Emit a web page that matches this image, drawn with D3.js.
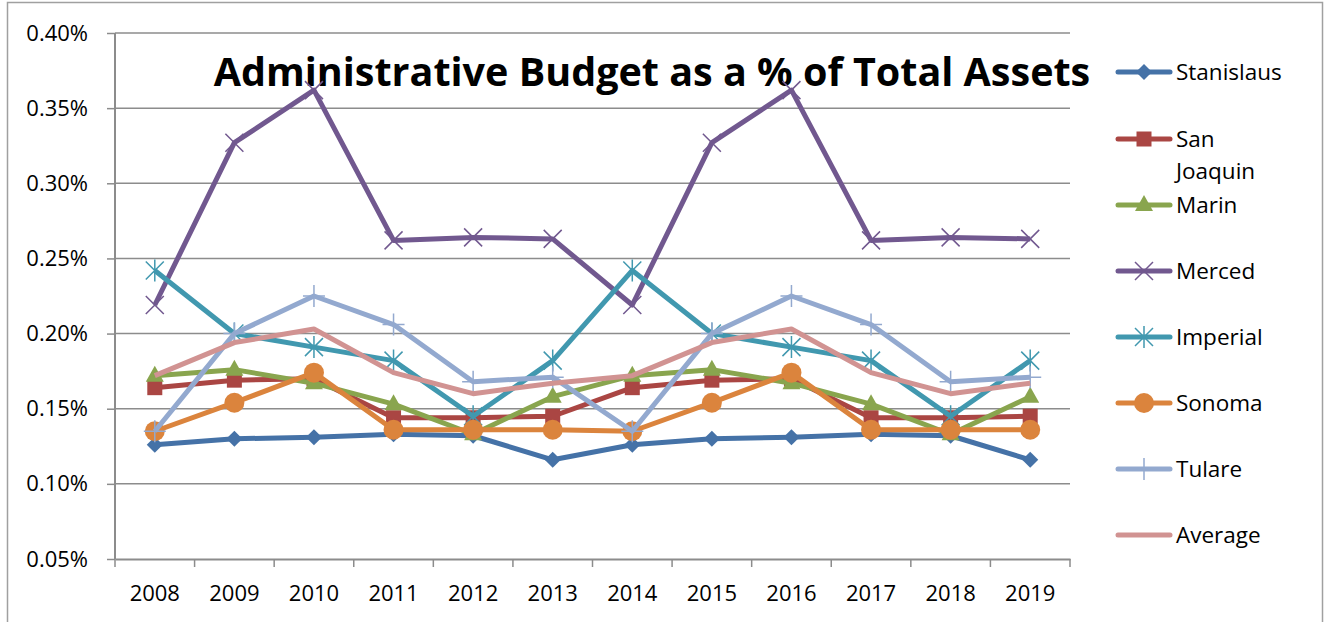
<!DOCTYPE html>
<html>
<head>
<meta charset="utf-8">
<title>Administrative Budget as a % of Total Assets</title>
<script src="https://cdnjs.cloudflare.com/ajax/libs/d3/7.8.5/d3.min.js"></script>
<style>
  body { margin: 0; background: #fff; }
  svg text { font-family: "Open Sans", sans-serif; }
</style>
</head>
<body>
<script>
// chart data
var years = ["2008","2009","2010","2011","2012","2013","2014","2015","2016","2017","2018","2019"];
var yTicks = [0.05, 0.10, 0.15, 0.20, 0.25, 0.30, 0.35, 0.40];

var stanislaus = [0.126,0.130,0.131,0.133,0.132,0.116,0.126,0.130,0.131,0.133,0.132,0.116];
var sanJoaquin = [0.164,0.169,0.170,0.144,0.144,0.145,0.164,0.169,0.170,0.144,0.144,0.145];
var marin      = [0.172,0.176,0.167,0.153,0.133,0.158,0.172,0.176,0.167,0.153,0.133,0.158];
var merced     = [0.219,0.327,0.362,0.262,0.264,0.263,0.219,0.327,0.362,0.262,0.264,0.263];
var imperial   = [0.242,0.200,0.191,0.182,0.145,0.182,0.242,0.200,0.191,0.182,0.145,0.182];
var sonoma     = [0.135,0.154,0.174,0.136,0.136,0.136,0.135,0.154,0.174,0.136,0.136,0.136];
var tulare     = [0.135,0.200,0.225,0.206,0.168,0.171,0.135,0.200,0.225,0.206,0.168,0.171];
var average    = [0.172,0.194,0.203,0.174,0.160,0.167,0.172,0.194,0.203,0.174,0.160,0.167];

var series = [
  { name: "Stanislaus",  values: stanislaus, color: "#4572A7", marker: "diamond" },
  { name: "San Joaquin", values: sanJoaquin, color: "#AA4643", marker: "square" },
  { name: "Marin",       values: marin,      color: "#89A54E", marker: "triangle" },
  { name: "Merced",      values: merced,     color: "#71588F", marker: "x" },
  { name: "Imperial",    values: imperial,   color: "#4198AF", marker: "star" },
  { name: "Sonoma",      values: sonoma,     color: "#DB843D", marker: "circle" },
  { name: "Tulare",      values: tulare,     color: "#93A9CF", marker: "plus" },
  { name: "Average",     values: average,    color: "#D19392", marker: "none" }
];

var chartwidth = 1331, chartheight = 622;
var plotLeft = 115, plotRight = 1070, plotTop = 33, plotBottom = 559;
var gridColor = "#8c8c8c";

var svg = d3.select("body").append("svg")
  .attr("width", chartwidth)
  .attr("height", chartheight);

// outer chart border
svg.append("rect")
  .attr("x", 7.5).attr("y", 2.5)
  .attr("width", 1315).attr("height", 640)
  .attr("fill", "none")
  .attr("stroke", "#a0a0a0")
  .attr("stroke-width", 1.5);

var x = d3.scaleBand().domain(years).range([plotLeft, plotRight]);
var y = d3.scaleLinear().domain([0.05, 0.40]).range([plotBottom, plotTop]);

// gridlines
svg.append("g")
  .selectAll("line")
  .data(yTicks.slice(1))
  .enter().append("line")
  .attr("x1", plotLeft).attr("x2", plotRight)
  .attr("y1", function(d) { return y(d); })
  .attr("y2", function(d) { return y(d); })
  .attr("stroke", gridColor)
  .attr("stroke-width", 1.5);

// y axis
var yAxis = svg.append("g")
  .attr("transform", "translate(" + plotLeft + ",0)")
  .call(d3.axisLeft(y).tickValues(yTicks).tickSize(8).tickPadding(19)
    .tickFormat(function(d) { return d.toFixed(2) + "%"; }));
yAxis.selectAll("text").attr("font-size", "22px").attr("fill", "#000")
  .style("font-family", "'Open Sans', sans-serif");

// x axis, ticks at category boundaries
var xAxis = svg.append("g")
  .attr("transform", "translate(0," + plotBottom + ")")
  .call(d3.axisBottom(x).tickSize(0).tickPadding(26));
xAxis.selectAll("text").attr("font-size", "22px").attr("fill", "#000")
  .style("font-family", "'Open Sans', sans-serif");
xAxis.append("g").selectAll("line")
  .data(years.concat(["end"]))
  .enter().append("line")
  .attr("x1", function(d, i) { return plotLeft + i * x.step(); })
  .attr("x2", function(d, i) { return plotLeft + i * x.step(); })
  .attr("y1", 0).attr("y2", 8)
  .attr("stroke", gridColor).attr("stroke-width", 1.5);

svg.selectAll(".domain").attr("stroke", gridColor).attr("stroke-width", 2);
svg.selectAll(".tick line").attr("stroke", gridColor).attr("stroke-width", 1.5);
yAxis.select(".domain").attr("d", "M0," + plotBottom + "V" + plotTop);

// title
svg.append("text")
  .attr("x", 652).attr("y", 86)
  .attr("text-anchor", "middle")
  .attr("font-size", "39.5px")
  .attr("font-weight", "bold")
  .attr("fill", "#000")
  .text("Administrative Budget as a % of Total Assets");

function drawMarker(g, type, color, cx, cy) {
  if (type === "diamond") {
    g.append("path").attr("d", d3.symbol().type(d3.symbolSquare).size(130))
      .attr("transform", "translate(" + cx + "," + cy + ") rotate(45)")
      .attr("fill", color);
  } else if (type === "square") {
    g.append("rect").attr("x", cx - 7.5).attr("y", cy - 7.5)
      .attr("width", 15).attr("height", 15).attr("fill", color);
  } else if (type === "triangle") {
    g.append("path").attr("d", "M" + cx + "," + (cy - 10) + "L" + (cx + 9) + "," + (cy + 6) + "L" + (cx - 9) + "," + (cy + 6) + "Z")
      .attr("fill", color);
  } else if (type === "circle") {
    g.append("circle").attr("cx", cx).attr("cy", cy).attr("r", 10).attr("fill", color);
  } else if (type === "x") {
    g.append("path").attr("d", "M" + (cx - 9) + "," + (cy - 9) + "L" + (cx + 9) + "," + (cy + 9) + "M" + (cx + 9) + "," + (cy - 9) + "L" + (cx - 9) + "," + (cy + 9))
      .attr("stroke", color).attr("stroke-width", 1.5).attr("fill", "none");
  } else if (type === "star") {
    g.append("path").attr("d", "M" + (cx - 9) + "," + (cy - 9) + "L" + (cx + 9) + "," + (cy + 9) + "M" + (cx + 9) + "," + (cy - 9) + "L" + (cx - 9) + "," + (cy + 9) + "M" + cx + "," + (cy - 11) + "L" + cx + "," + (cy + 11))
      .attr("stroke", color).attr("stroke-width", 1.5).attr("fill", "none");
  } else if (type === "plus") {
    g.append("path").attr("d", "M" + (cx - 11) + "," + cy + "L" + (cx + 11) + "," + cy + "M" + cx + "," + (cy - 11) + "L" + cx + "," + (cy + 11))
      .attr("stroke", color).attr("stroke-width", 1.5).attr("fill", "none");
  }
}

var line = d3.line()
  .x(function(d, i) { return x(years[i]) + x.bandwidth() / 2; })
  .y(function(d) { return y(d); });

series.forEach(function(s) {
  var g = svg.append("g");
  g.append("path")
    .datum(s.values)
    .attr("d", line)
    .attr("fill", "none")
    .attr("stroke", s.color)
    .attr("stroke-width", 5)
    .attr("stroke-linejoin", "round");
  s.values.forEach(function(v, i) {
    drawMarker(g, s.marker, s.color, x(years[i]) + x.bandwidth() / 2, y(v));
  });
});

// legend
var legendY = [72, 139, 205, 271, 337, 403, 469, 535];
var legend = svg.append("g");
series.forEach(function(s, i) {
  var g = legend.append("g");
  var ly = legendY[i];
  g.append("line").attr("x1", 1118).attr("x2", 1170).attr("y1", ly).attr("y2", ly)
    .attr("stroke", s.color).attr("stroke-width", 5).attr("stroke-linecap", "round");
  drawMarker(g, s.marker, s.color, 1144, ly);
  var t = g.append("text").attr("x", 1176).attr("y", ly + 8)
    .attr("font-size", "22.5px").attr("fill", "#000");
  if (s.name === "San Joaquin") {
    t.append("tspan").attr("x", 1176).text("San");
    t.append("tspan").attr("x", 1176).attr("dy", 32).text("Joaquin");
  } else {
    t.text(s.name);
  }
});
</script>
</body>
</html>
